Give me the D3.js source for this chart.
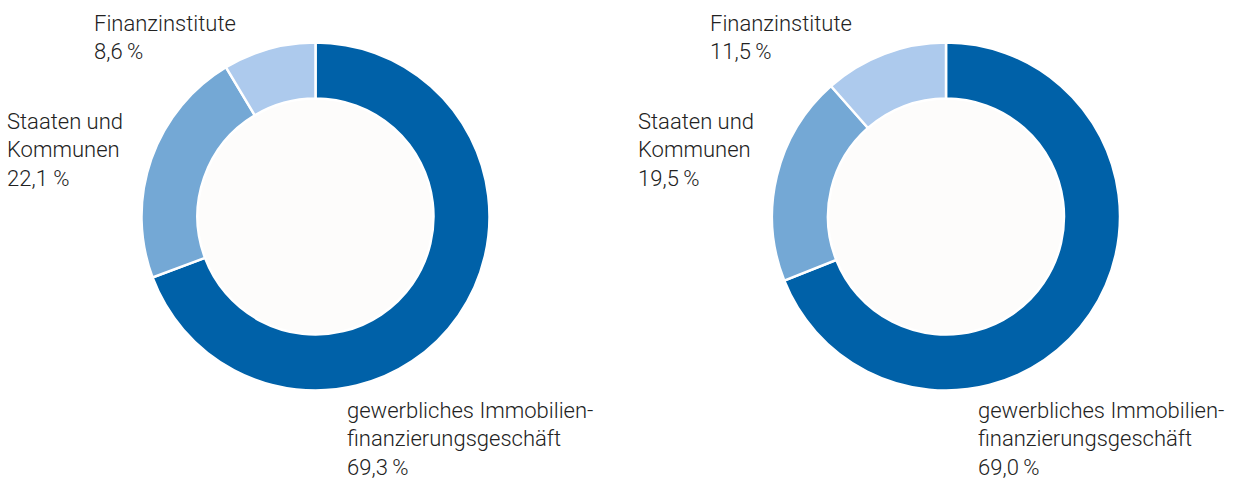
<!DOCTYPE html>
<html><head><meta charset="utf-8">
<script src="https://cdn.jsdelivr.net/npm/d3@7"></script>
<style>
html,body{margin:0;padding:0;background:#fff;}
text{font-family:Roboto,"Liberation Sans",sans-serif;font-weight:300;fill:#222;}
</style></head>
<body><svg id="c" width="1234" height="480"></svg>
<script>
const categories = ["gewerbliches Immobilienfinanzierungsgeschäft", "Staaten und Kommunen", "Finanzinstitute"];
const valuesLeft = [69.3, 22.1, 8.6];
const valuesRight = [69.0, 19.5, 11.5];
const labelsLeft = ["69,3\u2009%", "22,1 %", "8,6\u2009%"];
const labelsRight = ["69,0\u2009%", "19,5\u2009%", "11,5\u2009%"];
const colors = ["#0061a8", "#74a8d5", "#adcaed"];

const svg = d3.select("#c");
const color = d3.scaleOrdinal().domain(categories).range(colors);
const pie = d3.pie().sort(null).value(d => d.v);
const arc = d3.arc().innerRadius(118).outerRadius(174);

function donut(cx, cy, values, labels, pos) {
  const g = svg.append("g").attr("transform", `translate(${cx},${cy})`);
  g.append("circle").attr("r", 118).attr("fill", "#fdfcfb");
  const data = categories.map((c, i) => ({c, v: values[i]}));
  g.selectAll("path").data(pie(data)).join("path")
    .attr("d", arc).attr("fill", d => color(d.data.c))
    .attr("stroke", "#fff").attr("stroke-width", 2.5).attr("stroke-linejoin", "miter");
  const lines = [
    ["gewerbliches Immobilien-", "finanzierungsgeschäft", labels[0]],
    ["Staaten und", "Kommunen", labels[1]],
    ["Finanzinstitute", labels[2]]
  ];
  lines.forEach((ls, i) => {
    const t = svg.append("text").attr("x", pos[i][0]).attr("y", pos[i][1]).style("font-size", "22px");
    ls.forEach((l, j) => t.append("tspan").attr("x", pos[i][0]).attr("dy", j ? 28.3 : 0).text(l));
  });
}
donut(315.5, 216.5, valuesLeft, labelsLeft, [[347, 418], [7, 129], [94, 31]]);
donut(946, 216.5, valuesRight, labelsRight, [[978, 418], [638, 129], [710, 31]]);
</script></body></html>
